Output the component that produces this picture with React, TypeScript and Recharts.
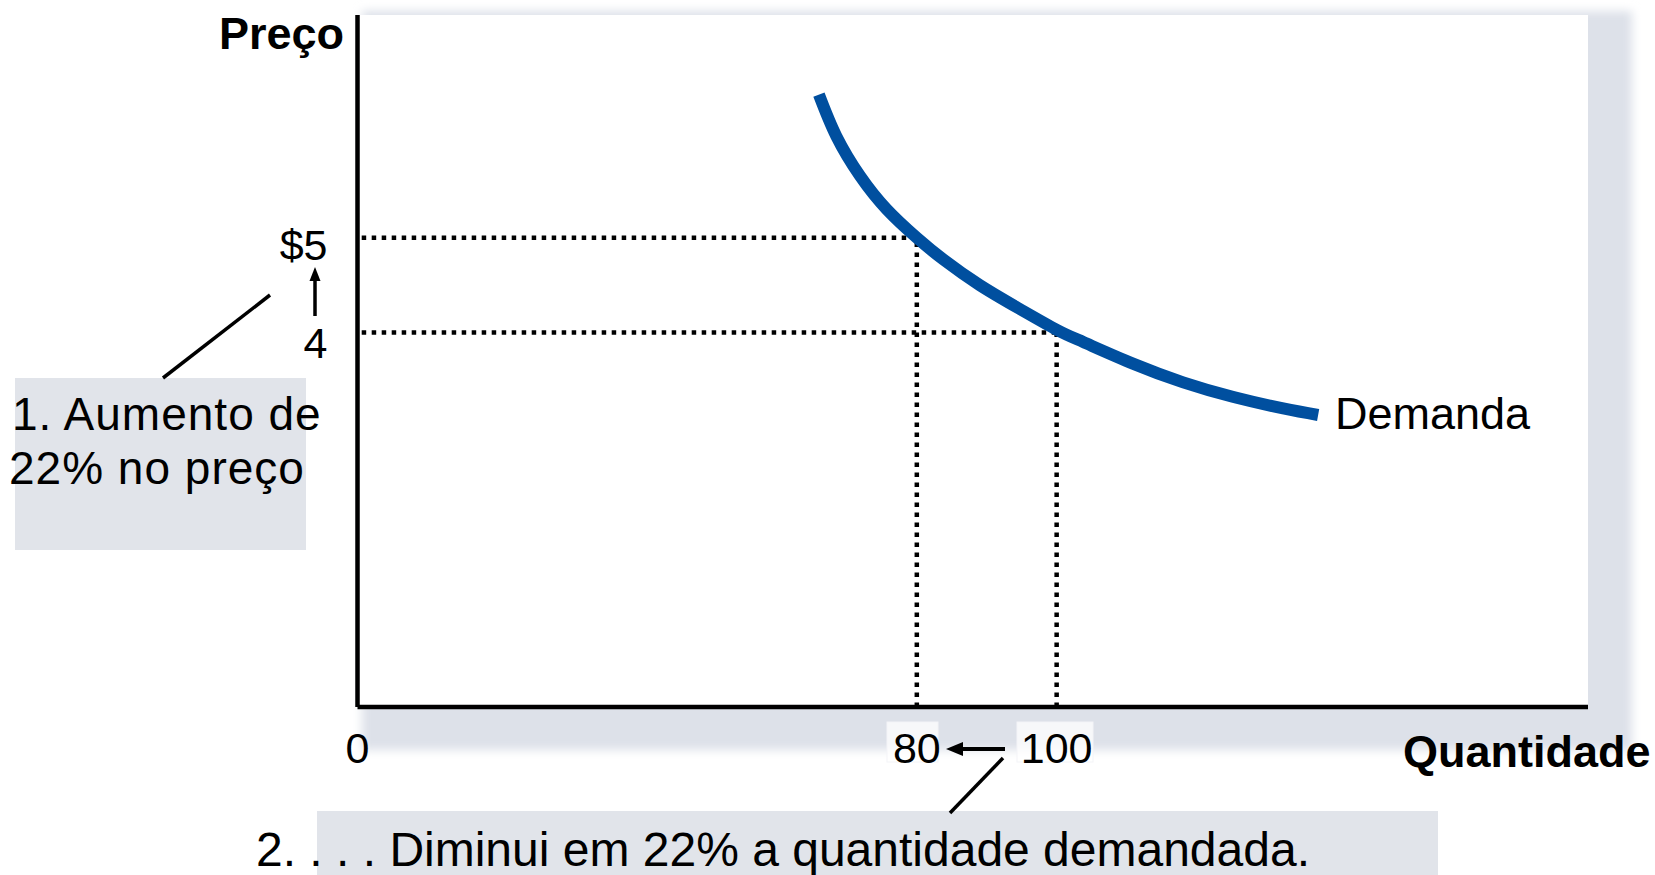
import { LineChart, Line, XAxis, YAxis, ReferenceLine } from 'recharts';

// demand curve (quantity, price)
const quantity = [66, 68.5, 71.9, 75.7, 80, 83.8, 89, 94.7, 100, 103.8, 111, 118.1, 125.3, 132.4, 137.4];
const price = [6.51, 6.07, 5.65, 5.3, 5.0, 4.77, 4.5, 4.25, 4.03, 3.9, 3.67, 3.475, 3.32, 3.2, 3.13];

const qTicks = [0, 80, 100];
const pTicks = [4, 5];
const pTickLabels: Record<number, string> = { 5: '$5', 4: '4' };

const highPrice = 5;
const lowPrice = 4;
const lowQty = 80;
const highQty = 100;

const FONT = '"Liberation Sans", Arial, Helvetica, sans-serif';
const BLUE = '#004f9f';
const BOX = '#e1e4ea';

const data = quantity.map((q, i) => ({ q, p: price[i] }));

function QTick({ x, y, payload }: any) {
  return (
    <text x={x} y={y + 56} textAnchor="middle" fontSize={43} fontFamily={FONT} fill="#000">
      {payload.value}
    </text>
  );
}

function PTick({ x, y, payload }: any) {
  const dy = payload.value === 5 ? 22 : 25;
  return (
    <text x={x - 30} y={y + dy} textAnchor="end" fontSize={43} fontFamily={FONT} fill="#000">
      {pTickLabels[payload.value]}
    </text>
  );
}

const dotted = { stroke: '#000', strokeWidth: 4.5, strokeDasharray: '4.5 5.5', ifOverflow: 'visible' as const };

export default function App() {
  return (
    <div style={{ position: 'absolute', left: 0, top: 0, width: 1655, height: 875, background: '#fff', fontFamily: FONT }}>
      {/* backdrop: shadowed panel and annotation boxes */}
      <svg width={1655} height={875} style={{ position: 'absolute', left: 0, top: 0 }}>
        <defs>
          <filter id="soft" x="-5%" y="-5%" width="110%" height="110%">
            <feGaussianBlur stdDeviation="5" />
          </filter>
        </defs>
        <rect x={362} y={11} width={1270} height={739} fill="#dde1e9" filter="url(#soft)" />
        <rect x={357} y={15} width={1231} height={692} fill="#fff" />
        <rect x={887} y={722} width={51} height={40} fill="#fff" fillOpacity={0.75} stroke="#f3f4f7" />
        <rect x={1017} y={722} width={76} height={40} fill="#fff" fillOpacity={0.75} stroke="#f3f4f7" />
        <rect x={15} y={378} width={291} height={172} fill={BOX} />
        <rect x={317} y={811} width={1121} height={64} fill={BOX} />
      </svg>

      <div style={{ position: 'absolute', left: 0, top: 0 }}>
        <LineChart width={1655} height={875} data={data} margin={{ top: 15, right: 67, bottom: 108, left: 257.5 }}>
          <XAxis
            dataKey="q"
            type="number"
            domain={[0, 176]}
            ticks={qTicks}
            tick={<QTick />}
            tickLine={false}
            tickSize={0}
            tickMargin={0}
            height={60}
            axisLine={{ stroke: '#000', strokeWidth: 4.5 }}
          />
          <YAxis
            type="number"
            domain={[0.05, 7.35]}
            ticks={pTicks}
            tick={<PTick />}
            tickLine={false}
            tickSize={0}
            tickMargin={0}
            width={100}
            axisLine={{ stroke: '#000', strokeWidth: 4.5 }}
          />
          <ReferenceLine segment={[{ x: 0.6, y: highPrice }, { x: lowQty, y: highPrice }]} {...dotted} />
          <ReferenceLine segment={[{ x: 0.6, y: lowPrice }, { x: highQty, y: lowPrice }]} {...dotted} />
          <ReferenceLine segment={[{ x: lowQty, y: 0.05 }, { x: lowQty, y: highPrice }]} {...dotted} />
          <ReferenceLine segment={[{ x: highQty, y: 0.05 }, { x: highQty, y: lowPrice }]} {...dotted} />
          <Line
            type="natural"
            dataKey="p"
            stroke={BLUE}
            strokeWidth={12}
            dot={false}
            activeDot={false}
            isAnimationActive={false}
          />
        </LineChart>
      </div>

      {/* labels and annotations */}
      <svg width={1655} height={875} style={{ position: 'absolute', left: 0, top: 0, pointerEvents: 'none' }} fontFamily={FONT}>
        <text x={344} y={49} textAnchor="end" fontSize={45} fontWeight={700}>Preço</text>
        <text x={1403} y={767} fontSize={45} fontWeight={700}>Quantidade</text>
        <text x={1335} y={429} fontSize={45}>Demanda</text>

        <line x1={315} y1={316} x2={315} y2={278} stroke="#000" strokeWidth={3.5} />
        <polygon points="315,267 309.5,281 320.5,281" fill="#000" />
        <line x1={270} y1={295} x2={163} y2={378} stroke="#000" strokeWidth={3.5} />
        <text x={12} y={430} fontSize={46} letterSpacing={1}>1. Aumento de</text>
        <text x={9} y={484} fontSize={46} letterSpacing={1}>22% no preço</text>

        <line x1={1005} y1={749} x2={958} y2={749} stroke="#000" strokeWidth={4} />
        <polygon points="946,749 963,742 963,756" fill="#000" />
        <line x1={1003} y1={758} x2={950} y2={813} stroke="#000" strokeWidth={3.5} />
        <text x={256} y={866} fontSize={48}>2. . . . Diminui em 22% a quantidade demandada.</text>
      </svg>
    </div>
  );
}
